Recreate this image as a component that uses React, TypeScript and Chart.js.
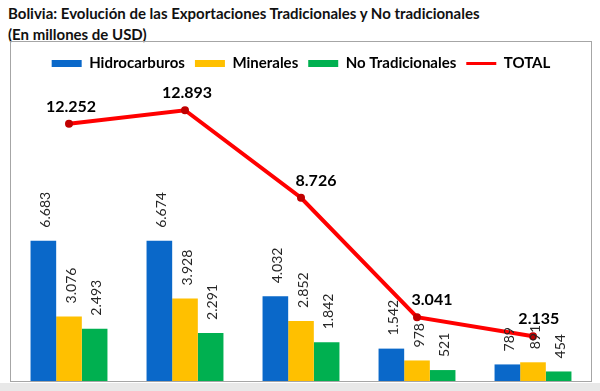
import React, { useEffect, useRef } from "react";
import { Chart, registerables } from "chart.js";

Chart.register(...registerables);

const categories = ["A", "B", "C", "D", "E"];
const hidrocarburos = [6683, 6674, 4032, 1542, 789];
const minerales = [3076, 3928, 2852, 978, 891];
const noTradicionales = [2493, 2291, 1842, 521, 454];
const total = [12252, 12893, 8726, 3041, 2135];

const titleLine1 = "Bolivia: Evolución de las Exportaciones Tradicionales y No tradicionales";
const titleLine2 = "(En millones de USD)";

const FONT = "Lato, 'Open Sans', sans-serif";

function fmt(v: number): string {
  const s = Math.round(v).toString();
  return s.replace(/\B(?=(\d{3})+(?!\d))/g, ".");
}

const valueLabels = {
  id: "valueLabels",
  afterDatasetsDraw(chart: any) {
    const ctx = chart.ctx;
    chart.data.datasets.forEach((ds: any, di: number) => {
      const meta = chart.getDatasetMeta(di);
      if (meta.hidden) return;
      meta.data.forEach((el: any, i: number) => {
        const text = fmt(ds.data[i]);
        ctx.save();
        if (ds.type === "line") {
          // nudge the label right when the line arrives from above, so it clears the segment
          const prev = i > 0 ? meta.data[i - 1] : null;
          const drop = prev ? Math.max(0, el.y - prev.y) : 0;
          const dx = 2 + Math.min(13, drop * 0.2);
          ctx.font = `bold 16px ${FONT}`;
          ctx.fillStyle = "#000000";
          ctx.textAlign = "center";
          ctx.textBaseline = "bottom";
          ctx.fillText(text, el.x + dx, el.y - 9);
        } else {
          ctx.font = `14px ${FONT}`;
          ctx.fillStyle = "#262626";
          ctx.translate(el.x + 2, el.y - 13);
          ctx.rotate(-Math.PI / 2);
          ctx.textAlign = "left";
          ctx.textBaseline = "middle";
          ctx.fillText(text, 0, 0);
        }
        ctx.restore();
      });
    });
  },
};

const legendSpacing = {
  id: "legendSpacing",
  afterInit(chart: any) {
    const lg = chart.legend;
    if (!lg) return;
    const orig = lg.fit;
    lg.fit = function () {
      orig.call(this);
      this.height += 6;
    };
  },
};

export default function App() {
  const ref = useRef<HTMLCanvasElement | null>(null);

  useEffect(() => {
    if (!ref.current) return;
    const chart = new Chart(ref.current, {
      type: "bar",
      data: {
        labels: categories,
        datasets: [
          {
            type: "line",
            label: "TOTAL",
            data: total,
            borderColor: "#FF0000",
            backgroundColor: "#FF0000",
            borderWidth: 4,
            pointRadius: 2,
            pointBackgroundColor: "#C00000",
            pointBorderColor: "#C00000",
            tension: 0,
            order: 0,
          } as any,
          {
            label: "Hidrocarburos",
            data: hidrocarburos,
            backgroundColor: "#0A68C9",
            borderWidth: 0,
            order: 1,
          },
          {
            label: "Minerales",
            data: minerales,
            backgroundColor: "#FFC000",
            borderWidth: 0,
            order: 1,
          },
          {
            label: "No Tradicionales",
            data: noTradicionales,
            backgroundColor: "#00B050",
            borderWidth: 0,
            order: 1,
          },
        ],
      },
      options: {
        responsive: true,
        maintainAspectRatio: false,
        animation: false,
        layout: { autoPadding: false, padding: { top: 4, left: 0, right: 0, bottom: 0 } },
        datasets: {
          bar: { categoryPercentage: 0.663, barPercentage: 1 },
        },
        scales: {
          x: { display: false, grid: { display: false } },
          y: { display: false, min: 0, max: 14000 },
        },
        plugins: {
          tooltip: { enabled: false },
          legend: {
            display: true,
            position: "top",
            labels: {
              usePointStyle: true,
              pointStyleWidth: 30,
              boxHeight: 7,
              padding: 10,
              color: "#000000",
              font: { family: FONT, size: 15, weight: "bold" },
              generateLabels(c: any) {
                const items = Chart.defaults.plugins.legend.labels.generateLabels(c);
                const mapped = items.map((it: any) => {
                  const ds = c.data.datasets[it.datasetIndex];
                  if (ds.type === "line") {
                    return { ...it, pointStyle: "line", strokeStyle: "#FF0000", lineWidth: 3 };
                  }
                  return { ...it, pointStyle: "rect", lineWidth: 0 };
                });
                const line = mapped.filter((m: any) => m.pointStyle === "line");
                const bars = mapped.filter((m: any) => m.pointStyle !== "line");
                return [...bars, ...line];
              },
            },
          },
        },
      },
      plugins: [valueLabels, legendSpacing],
    });
    return () => chart.destroy();
  }, []);

  return (
    <div style={{ position: "absolute", left: 0, top: 0, width: 600, height: 391, background: "#ffffff", overflow: "hidden" }}>
      <div
        style={{
          position: "absolute",
          left: 8,
          top: 3,
          fontFamily: FONT,
          fontWeight: "bold",
          fontSize: 15,
          lineHeight: "21px",
          color: "#111111",
          whiteSpace: "nowrap",
        }}
      >
        <div>{titleLine1}</div>
        <div>{titleLine2}</div>
      </div>
      <div
        style={{
          position: "absolute",
          left: 10,
          top: 41,
          width: 582,
          height: 341,
          border: "1px solid #A6A6A6",
          boxSizing: "border-box",
        }}
      >
        <div style={{ position: "relative", width: 580, height: 339 }}>
          <canvas ref={ref} />
        </div>
      </div>
      <div style={{ position: "absolute", left: 0, top: 383, width: 600, height: 8, background: "#E8E8E8" }} />
    </div>
  );
}
